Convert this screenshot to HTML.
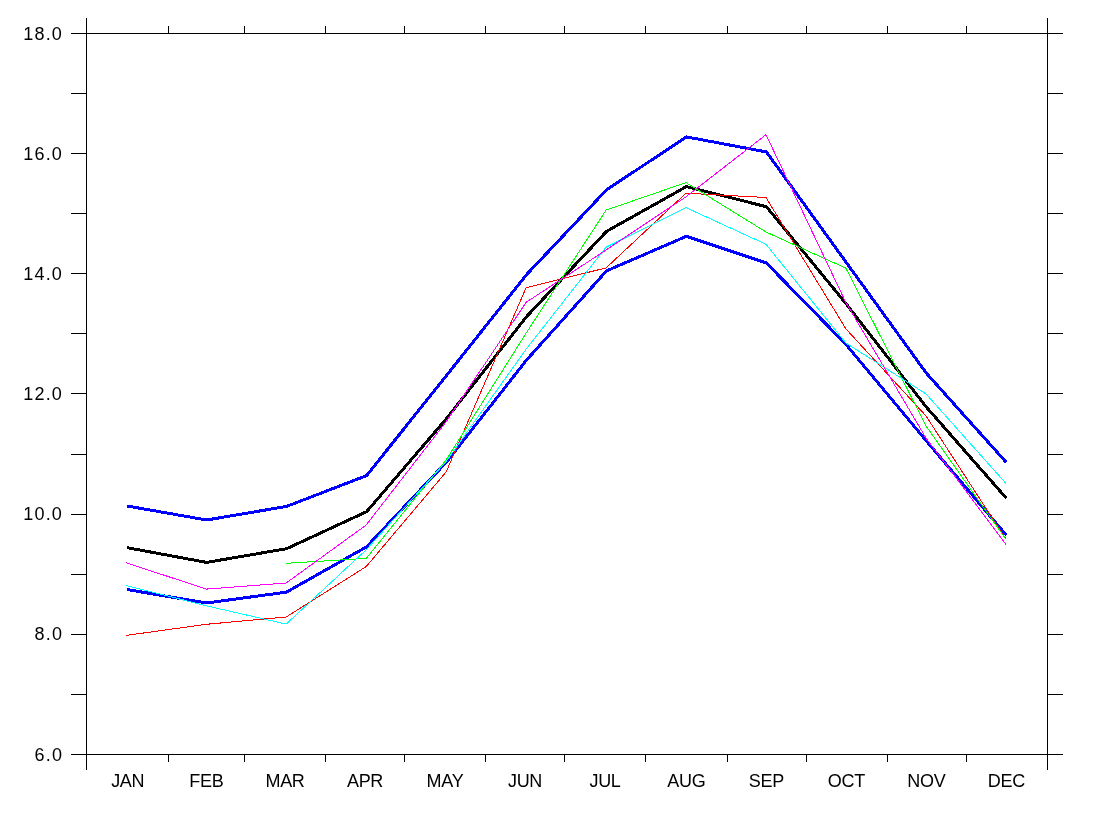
<!DOCTYPE html>
<html><head><meta charset="utf-8"><title>plot</title>
<style>
html,body{margin:0;padding:0;background:#fff;}
body{width:1095px;height:815px;overflow:hidden;}
svg{display:block;}
text{font-family:"Liberation Sans",sans-serif;font-size:18px;fill:#000;}
.yl{text-anchor:end;letter-spacing:1.2px;}
.xl{text-anchor:middle;letter-spacing:-0.3px;}
</style></head><body>
<svg width="1095" height="815" viewBox="0 0 1095 815">
<rect width="1095" height="815" fill="#fff"/>
<g stroke="#000" stroke-width="1" fill="none" shape-rendering="crispEdges">
<line x1="86.5" y1="18" x2="86.5" y2="770"/>
<line x1="1047.5" y1="18" x2="1047.5" y2="770"/>
<line x1="71" y1="33.5" x2="1063" y2="33.5"/>
<line x1="71" y1="754.5" x2="1063" y2="754.5"/>
<line x1="71" y1="93.5" x2="86.5" y2="93.5"/><line x1="1047.5" y1="93.5" x2="1063" y2="93.5"/>
<line x1="71" y1="153.5" x2="86.5" y2="153.5"/><line x1="1047.5" y1="153.5" x2="1063" y2="153.5"/>
<line x1="71" y1="213.5" x2="86.5" y2="213.5"/><line x1="1047.5" y1="213.5" x2="1063" y2="213.5"/>
<line x1="71" y1="273.5" x2="86.5" y2="273.5"/><line x1="1047.5" y1="273.5" x2="1063" y2="273.5"/>
<line x1="71" y1="333.5" x2="86.5" y2="333.5"/><line x1="1047.5" y1="333.5" x2="1063" y2="333.5"/>
<line x1="71" y1="393.5" x2="86.5" y2="393.5"/><line x1="1047.5" y1="393.5" x2="1063" y2="393.5"/>
<line x1="71" y1="454.5" x2="86.5" y2="454.5"/><line x1="1047.5" y1="454.5" x2="1063" y2="454.5"/>
<line x1="71" y1="514.5" x2="86.5" y2="514.5"/><line x1="1047.5" y1="514.5" x2="1063" y2="514.5"/>
<line x1="71" y1="574.5" x2="86.5" y2="574.5"/><line x1="1047.5" y1="574.5" x2="1063" y2="574.5"/>
<line x1="71" y1="634.5" x2="86.5" y2="634.5"/><line x1="1047.5" y1="634.5" x2="1063" y2="634.5"/>
<line x1="71" y1="694.5" x2="86.5" y2="694.5"/><line x1="1047.5" y1="694.5" x2="1063" y2="694.5"/>
<line x1="168.5" y1="26" x2="168.5" y2="33.5"/><line x1="168.5" y1="754.5" x2="168.5" y2="762"/>
<line x1="244.5" y1="26" x2="244.5" y2="33.5"/><line x1="244.5" y1="754.5" x2="244.5" y2="762"/>
<line x1="325.5" y1="26" x2="325.5" y2="33.5"/><line x1="325.5" y1="754.5" x2="325.5" y2="762"/>
<line x1="404.5" y1="26" x2="404.5" y2="33.5"/><line x1="404.5" y1="754.5" x2="404.5" y2="762"/>
<line x1="485.5" y1="26" x2="485.5" y2="33.5"/><line x1="485.5" y1="754.5" x2="485.5" y2="762"/>
<line x1="564.5" y1="26" x2="564.5" y2="33.5"/><line x1="564.5" y1="754.5" x2="564.5" y2="762"/>
<line x1="645.5" y1="26" x2="645.5" y2="33.5"/><line x1="645.5" y1="754.5" x2="645.5" y2="762"/>
<line x1="727.5" y1="26" x2="727.5" y2="33.5"/><line x1="727.5" y1="754.5" x2="727.5" y2="762"/>
<line x1="806.5" y1="26" x2="806.5" y2="33.5"/><line x1="806.5" y1="754.5" x2="806.5" y2="762"/>
<line x1="887.5" y1="26" x2="887.5" y2="33.5"/><line x1="887.5" y1="754.5" x2="887.5" y2="762"/>
<line x1="966.5" y1="26" x2="966.5" y2="33.5"/><line x1="966.5" y1="754.5" x2="966.5" y2="762"/>
</g>
<g fill="none" stroke-linejoin="round" stroke-linecap="butt" shape-rendering="crispEdges">
<polyline points="126.3,547.6 206.3,562.4 286.2,548.7 366.2,511.7 446.1,418.6 526.1,316.7 606.1,231.4 686.0,186.6 766.0,206.7 845.9,304.0 925.9,407.0 1005.9,498.2" stroke="#000000" stroke-width="3" transform="translate(0.4,0)"/>
<polyline points="126.3,505.9 206.3,520.0 286.2,506.4 366.2,475.6 446.1,375.5 526.1,274.7 606.1,189.9 686.0,136.9 766.0,151.9 845.9,262.5 925.9,373.1 1005.9,462.4" stroke="#0000ff" stroke-width="3" transform="translate(0.4,0)"/>
<polyline points="126.3,589.5 206.3,603.0 286.2,592.1 366.2,546.8 446.1,462.0 526.1,360.1 606.1,270.9 686.0,236.3 766.0,263.0 845.9,344.8 925.9,440.8 1005.9,535.2" stroke="#0000ff" stroke-width="3" transform="translate(0.4,0)"/>
<polyline points="126.3,635.4 206.3,624.3 286.2,617.0 366.2,566.6 446.1,472.0 526.1,287.7 606.1,267.9 686.0,193.2 766.0,197.5 845.9,328.9 925.9,415.8 1005.9,539.0" stroke="#ff0000" stroke-width="1"/>
<polyline points="286.2,563.3 366.2,558.4 446.1,460.0 526.1,333.2 606.1,210.1 686.0,182.6 766.0,232.0 845.9,268.2 925.9,425.8 1005.9,539.2" stroke="#00ff00" stroke-width="1"/>
<polyline points="126.3,585.5 206.3,605.8 286.2,624.1 366.2,549.8 446.1,461.5 526.1,349.2 606.1,247.2 686.0,207.6 766.0,244.3 845.9,343.0 925.9,393.8 1005.9,483.4" stroke="#00ffff" stroke-width="1"/>
<polyline points="126.3,562.8 206.3,589.1 286.2,583.0 366.2,525.0 446.1,421.8 526.1,302.3 606.1,250.0 686.0,196.8 766.0,134.7 845.9,302.6 925.9,437.9 1005.9,544.3" stroke="#ff00ff" stroke-width="1"/>
</g>
<text class="yl" x="63.1" y="39.5">18.0</text>
<text class="yl" x="63.1" y="159.7">16.0</text>
<text class="yl" x="63.1" y="279.8">14.0</text>
<text class="yl" x="63.1" y="400.0">12.0</text>
<text class="yl" x="63.1" y="520.2">10.0</text>
<text class="yl" x="63.1" y="640.3">8.0</text>
<text class="yl" x="63.1" y="760.5">6.0</text>
<text class="xl" x="127.7" y="787">JAN</text>
<text class="xl" x="206.3" y="787">FEB</text>
<text class="xl" x="285.0" y="787">MAR</text>
<text class="xl" x="365.0" y="787">APR</text>
<text class="xl" x="445.0" y="787">MAY</text>
<text class="xl" x="525.0" y="787">JUN</text>
<text class="xl" x="605.0" y="787">JUL</text>
<text class="xl" x="686.3" y="787">AUG</text>
<text class="xl" x="766.3" y="787">SEP</text>
<text class="xl" x="846.3" y="787">OCT</text>
<text class="xl" x="926.3" y="787">NOV</text>
<text class="xl" x="1006.3" y="787">DEC</text>
</svg>
</body></html>
